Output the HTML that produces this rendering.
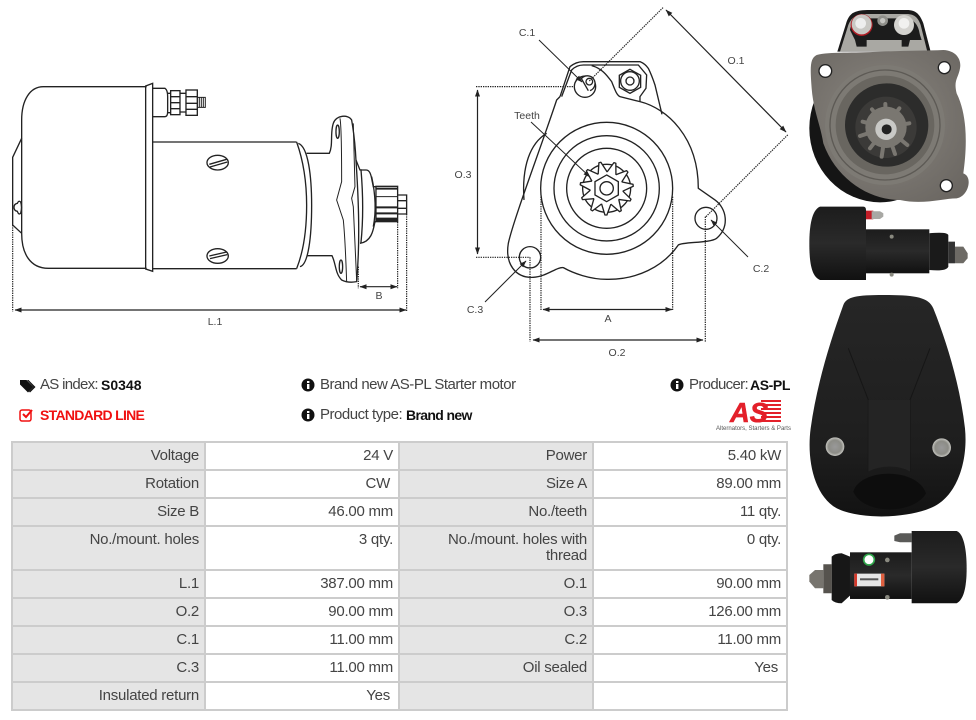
<!DOCTYPE html>
<html><head><meta charset="utf-8"><title>S0348</title>
<style>
html,body{margin:0;padding:0;background:#fff;width:976px;height:720px;overflow:hidden}
body{position:relative;font-family:"Liberation Sans",sans-serif;color:#444}
svg{position:absolute;left:0;top:0}
.t{position:absolute;white-space:nowrap;font-size:15px;line-height:18px;color:#444;letter-spacing:-.48px}
.b{position:absolute;white-space:nowrap;font-size:14px;line-height:18px;color:#111;font-weight:bold}
#g{position:absolute;left:11px;top:441px;width:777px;height:270px;box-sizing:border-box;padding:2px;background:#ccc;display:grid;gap:2px;grid-template-columns:191px 192px 192px 192px;grid-template-rows:26px 26px 26px 42px 26px 26px 26px 26px 26px}
#g div{background:#fff;text-align:right;font-size:15px;letter-spacing:-.25px;line-height:16px;padding:5px 5px 0 5px;box-sizing:border-box;color:#444}
#g div.l{background:#e5e5e5}
#g div.s{padding-right:8px}
.d{font-size:10.5px;fill:#444;font-family:"Liberation Sans",sans-serif;text-anchor:middle}
</style></head><body>
<svg width="976" height="720" viewBox="0 0 976 720">
<defs>
<marker id="a" markerWidth="7" markerHeight="6" refX="6.5" refY="3" orient="auto-start-reverse" markerUnits="userSpaceOnUse"><path d="M0,.5L7,3L0,5.5z" fill="#222"/></marker>
<radialGradient id="fl" cx=".45" cy=".45" r=".7"><stop offset="0" stop-color="#8a8680"/><stop offset="1" stop-color="#6a6661"/></radialGradient>
<linearGradient id="bk" x1="0" y1="0" x2="0" y2="1"><stop offset="0" stop-color="#1c1c1c"/><stop offset=".5" stop-color="#2a2a2a"/><stop offset="1" stop-color="#111"/></linearGradient>
<linearGradient id="cv" x1="0" y1="0" x2="0" y2="1"><stop offset="0" stop-color="#262626"/><stop offset=".7" stop-color="#1e1e1e"/><stop offset="1" stop-color="#121212"/></linearGradient>
<radialGradient id="sc"><stop offset="0" stop-color="#999"/><stop offset=".7" stop-color="#8c8c86"/><stop offset="1" stop-color="#c5c5c0"/></radialGradient>
</defs>

<!-- side view -->
<g transform="translate(0,70) scale(.3333)" fill="none" stroke="#222" stroke-width="4">
<path d="M440,50H130C90,50 65,90 65,150V490C65,550 90,595 145,595H440"/>
<path d="M65,205L38,262V465L65,490"/>
<path d="M437,48L458,40V604L437,597Z"/>
<path d="M458,55H495Q503,60 503,80V125Q503,140 495,140H458"/>
<path d="M503,70H512M503,128H512"/>
<rect x="512" y="62" width="28" height="72"/><path d="M512,80H540M512,98H540M512,116H540"/>
<path d="M540,70H558M540,126H558"/>
<rect x="558" y="60" width="34" height="76"/><path d="M558,80H592M558,100H592M558,118H592"/>
<path d="M592,82H616V112H592M598,82V112M604,82V112M610,82V112" stroke-width="3"/>
<path d="M458,216H890M458,596H890"/>
<path d="M890,216Q920,300 920,406Q920,520 890,596"/>
<path d="M895,220C925,230 935,320 935,406C935,500 925,585 900,590"/>
<path d="M920,250H988C1000,225 990,190 1000,160C1008,135 1045,132 1055,150C1062,190 1066,230 1068,270C1074,360 1082,500 1070,635Q1045,640 1025,630C1005,610 1008,580 996,557H920"/>
<path d="M1060,160L1065,350L1055,385L1060,410L1070,630" stroke-width="3"/>
<path d="M1020,145C1025,170 1025,280 1025,335L1010,390L1030,450C1036,510 1038,580 1040,635" stroke-width="3"/>
<ellipse cx="1013" cy="185" rx="5" ry="20"/><ellipse cx="1023" cy="590" rx="5" ry="20"/>
<path d="M1068,270L1080,300H1098C1108,300 1112,310 1115,325L1120,350H1128M1128,455H1125C1120,480 1115,515 1080,520"/>
<path d="M1083,298C1090,380 1090,450 1083,518"/>
<path d="M1115,320C1128,380 1128,430 1120,470"/>
<rect x="1128" y="349" width="65" height="106"/>
<path d="M1128,356H1193M1128,412H1193M1128,430H1193" stroke-width="6"/>
<path d="M1128,380H1193" stroke-width="3"/>
<path d="M1128,448H1193" stroke-width="10"/>
<path d="M1193,375H1220V432H1193M1193,392H1220M1193,415H1220"/>
<ellipse cx="653" cy="278" rx="32" ry="22"/><path d="M628,283L680,268M630,291L682,276"/>
<ellipse cx="653" cy="558" rx="32" ry="22"/><path d="M628,558L680,546M630,566L682,554"/>
<path d="M42,412Q42,402 52,400Q56,390 62,396Q67,412 62,430Q56,436 52,424Q42,422 42,412Z"/>
<g stroke-dasharray="4 3" stroke-width="3.600"><path d="M38,465V725M1220,432V725M1193,456V655M1075,590V655"/></g>
</g>
<line x1="15" y1="310" x2="406" y2="310" stroke="#222" stroke-width="1.2" marker-start="url(#a)" marker-end="url(#a)"/>
<line x1="360" y1="286.700" x2="397" y2="286.700" stroke="#222" stroke-width="1.2" marker-start="url(#a)" marker-end="url(#a)"/>
<text class="d" x="215" y="325">L.1</text><text class="d" x="379" y="299">B</text>

<!-- front view -->
<g transform="translate(450,0) scale(.3333)" fill="none" stroke="#222" stroke-width="4">
<path d="M330,290L360,200C372,190 385,185 400,185H570C582,190 590,198 595,205C605,225 610,240 615,255L636,343"/>
<path d="M335,290L365,210C375,200 388,195 400,195H565L590,225L588,265L570,290V305"/>
<path d="M425,197C455,205 470,225 485,245C495,270 500,285 510,290L570,305C650,325 745,410 745,565L795,600C830,625 840,680 800,715C780,730 700,725 685,735C640,800 560,840 470,838C420,838 370,820 340,803C320,800 290,830 250,832C195,835 165,790 175,730C190,660 270,450 320,300L330,290"/>
<path d="M290,400C240,430 215,500 222,600"/>
<circle cx="470" cy="565" r="198"/><circle cx="470" cy="565" r="158"/><circle cx="470" cy="565" r="120"/>
<circle cx="470" cy="565" r="72"/>
<g fill="#fff" stroke-linejoin="round">
<path transform="translate(470,565) rotate(18)" d="M-14,-47L-3,-80H3L14,-47"/>
<path transform="translate(470,565) rotate(50.700)" d="M-14,-47L-3,-80H3L14,-47"/>
<path transform="translate(470,565) rotate(83.500)" d="M-14,-47L-3,-80H3L14,-47"/>
<path transform="translate(470,565) rotate(116.200)" d="M-14,-47L-3,-80H3L14,-47"/>
<path transform="translate(470,565) rotate(148.900)" d="M-14,-47L-3,-80H3L14,-47"/>
<path transform="translate(470,565) rotate(181.600)" d="M-14,-47L-3,-80H3L14,-47"/>
<path transform="translate(470,565) rotate(214.400)" d="M-14,-47L-3,-80H3L14,-47"/>
<path transform="translate(470,565) rotate(247.100)" d="M-14,-47L-3,-80H3L14,-47"/>
<path transform="translate(470,565) rotate(279.800)" d="M-14,-47L-3,-80H3L14,-47"/>
<path transform="translate(470,565) rotate(312.500)" d="M-14,-47L-3,-80H3L14,-47"/>
<path transform="translate(470,565) rotate(345.300)" d="M-14,-47L-3,-80H3L14,-47"/>
</g>
<path d="M470,525L505,545V585L470,605L435,585V545Z" fill="#fff"/>
<circle cx="470" cy="565" r="20"/>
<circle cx="405" cy="260" r="32"/><path d="M395,235A23,23 0 1 1 420,272" fill="#fff"/><path d="M392,232L415,272" /><circle cx="418" cy="245" r="10"/>
<circle cx="768" cy="655" r="33"/><circle cx="240" cy="772" r="32"/>
<path d="M540,208L572,226V262L540,280L508,262V226Z"/><circle cx="540" cy="243" r="28"/><circle cx="540" cy="243" r="12"/>
<g stroke-dasharray="4 3" stroke-width="3.600">
<path d="M78,260H375M78,772H240M273,590V932M668,590V932M240,772V1025M766,650V1025M418,243L640,22M768,650L1015,403"/>
</g>
</g>
<g stroke="#222" stroke-width="1" fill="none">
<line x1="477.500" y1="90" x2="477.500" y2="254" stroke-width="1.2" marker-start="url(#a)" marker-end="url(#a)"/>
<line x1="543" y1="309.500" x2="672" y2="309.500" stroke-width="1.2" marker-start="url(#a)" marker-end="url(#a)"/>
<line x1="533" y1="340" x2="703" y2="340" stroke-width="1.2" marker-start="url(#a)" marker-end="url(#a)"/>
<line x1="666" y1="10" x2="786" y2="132" stroke-width="1.2" marker-start="url(#a)" marker-end="url(#a)"/>
<line x1="539" y1="40" x2="582" y2="82" marker-end="url(#a)"/>
<line x1="531" y1="122" x2="590" y2="177" marker-end="url(#a)"/>
<line x1="748" y1="257" x2="711" y2="220" marker-end="url(#a)"/>
<line x1="485" y1="302" x2="526" y2="261" marker-end="url(#a)"/>
</g>
<text class="d" x="527" y="36">C.1</text><text class="d" x="736" y="64">O.1</text>
<text class="d" x="527" y="119">Teeth</text><text class="d" x="463" y="178">O.3</text>
<text class="d" x="761" y="272">C.2</text><text class="d" x="475" y="313">C.3</text>
<text class="d" x="608" y="322">A</text><text class="d" x="617" y="356">O.2</text>

<!-- photo 1 -->
<g transform="translate(810,10) scale(.3333)">
<path d="M82,125L110,35C120,8 135,0 180,0H290C320,0 330,15 340,40L362,125Z" fill="#1a1a1a"/>
<path d="M90,125L115,45C125,20 140,12 180,12H290C315,12 325,25 332,45L352,125Z" fill="#a9a8a3"/>
<path d="M120,60C125,35 140,28 170,25H285C310,28 325,40 330,75L335,90H300L295,110H275V90H170V110H140L135,90Z" fill="#1c1c1c"/>
<circle cx="155" cy="45" r="33" fill="#b01c24"/><circle cx="155" cy="43" r="30" fill="#c9c8c4"/><circle cx="152" cy="40" r="16" fill="#eee"/>
<circle cx="282" cy="45" r="30" fill="#d4d3cf"/><circle cx="282" cy="40" r="16" fill="#f1f1ef"/>
<circle cx="218" cy="32" r="16" fill="#8f8f8a"/><circle cx="218" cy="32" r="8" fill="#c6c6c2"/>
<ellipse cx="210" cy="355" rx="212" ry="222" fill="#151515"/>
<path d="M20,135C60,125 130,130 210,125C280,122 350,122 400,120C440,122 455,150 450,175C445,205 430,210 440,250C475,320 470,420 460,490C490,500 475,560 440,565C400,565 340,585 270,570C180,570 80,510 40,400C30,340 10,300 5,235C0,170 0,145 20,135Z" fill="url(#fl)"/>
<circle cx="225" cy="345" r="180" fill="#7d7a74"/><circle cx="225" cy="345" r="165" fill="none" stroke="#5d5a55" stroke-width="4"/>
<circle cx="225" cy="345" r="148" fill="#696660"/>
<circle cx="230" cy="345" r="125" fill="#2c2c2b"/>
<circle cx="228" cy="352" r="92" fill="#3b3a38"/>
<circle cx="228" cy="352" r="62" fill="#7a7771"/>
<g stroke="#7a7771" stroke-width="12" stroke-linecap="round"><path d="M228,352L226,282M228,352L268,295M228,352L298,340M228,352L292,405M228,352L255,432M228,352L215,440M228,352L180,415M228,352L150,378M228,352L158,335M228,352L186,298"/></g>
<circle cx="228" cy="358" r="32" fill="#c9c9c6"/><circle cx="230" cy="358" r="15" fill="#222"/>
<circle cx="46" cy="183" r="19" fill="#fff" stroke="#222" stroke-width="4"/>
<circle cx="403" cy="173" r="18" fill="#fff" stroke="#222" stroke-width="4"/>
<circle cx="409" cy="527" r="18" fill="#fff" stroke="#222" stroke-width="4"/>
</g>
<!-- photo 2 -->
<g transform="translate(800,0) scale(.3333)">
<rect x="198" y="632" width="22" height="26" fill="#c41e28"/>
<path d="M215,634H240L250,640V650L240,657H215Z" fill="#a8a8a4"/>
<path d="M60,620H190Q198,620 198,630V840H60C35,830 28,790 28,730C28,680 35,630 60,620Z" fill="url(#bk)"/>
<rect x="198" y="688" width="190" height="132" fill="url(#bk)"/>
<path d="M388,700Q440,695 445,705V800Q440,815 388,810Z" fill="#1a1a1a"/>
<path d="M445,725H465V790H445Z" fill="#333"/><path d="M465,740H490L503,760V775L490,790H465Z" fill="#6d6a65"/>
<circle cx="275" cy="710" r="6" fill="#8a8a80"/><circle cx="275" cy="824" r="6" fill="#8a8a80"/>
</g>
<!-- photo 3 -->
<g transform="translate(800,285) scale(.3333)">
<path d="M130,60C140,35 170,30 250,30C340,30 385,35 400,70C440,170 480,300 495,430C505,530 470,640 390,670C320,700 180,705 110,670C40,630 20,520 32,430C50,300 90,170 130,60Z" fill="url(#cv)"/>
<path d="M145,190L205,345V560M390,190L330,345V560" stroke="#161616" stroke-width="3" fill="none"/>
<path d="M205,345H330V560C300,540 240,540 205,560Z" fill="#242424"/>
<path d="M160,620C180,550 350,545 378,625C340,690 190,690 160,620Z" fill="#0d0d0d"/>
<circle cx="105" cy="485" r="28" fill="url(#sc)"/><circle cx="425" cy="488" r="28" fill="url(#sc)"/>
</g>
<!-- photo 4 -->
<g transform="translate(800,285) scale(.3333)">
<path d="M283,752L300,745H335V772H300L283,768Z" fill="#5a5a58"/>
<path d="M335,738H470C490,745 500,790 500,850C500,910 490,945 470,955H335Z" fill="url(#bk)"/>
<rect x="150" y="802" width="185" height="140" fill="url(#bk)"/>
<path d="M95,815Q105,805 125,805L150,815V932L125,955Q105,955 95,945Z" fill="#171717"/>
<path d="M70,838H95V925H70Z" fill="#56534e"/><path d="M45,855H70V910H45L28,890V870Z" fill="#77746e"/>
<circle cx="207" cy="824" r="16" fill="#fff" stroke="#2fa54a" stroke-width="5"/>
<rect x="163" y="866" width="90" height="38" fill="#e5e5e5"/><rect x="163" y="866" width="8" height="38" fill="#d6382a"/><rect x="243" y="866" width="10" height="38" fill="#e06040"/>
<rect x="180" y="880" width="55" height="6" fill="#555"/>
<circle cx="262" cy="825" r="7" fill="#8a8a80"/><circle cx="262" cy="937" r="7" fill="#8a8a80"/>
</g>

<!-- info icons -->
<g fill="#111">
<path d="M20,380h6.500l7,7l-5.500,5.500l-8,-8z"/><path d="M28.500,380l7,7l-5.500,5.500l-1,-1l4.500,-4.500l-6.500,-7z"/>
</g>
<g id="ic">
<circle cx="308" cy="385" r="6.500" fill="#111"/><rect x="307" y="384" width="2.400" height="5" fill="#fff"/><rect x="307" y="381" width="2.400" height="2" fill="#fff"/>
<circle cx="308" cy="415" r="6.500" fill="#111"/><rect x="307" y="414" width="2.400" height="5" fill="#fff"/><rect x="307" y="411" width="2.400" height="2" fill="#fff"/>
<circle cx="677" cy="385" r="6.500" fill="#111"/><rect x="676" y="384" width="2.400" height="5" fill="#fff"/><rect x="676" y="381" width="2.400" height="2" fill="#fff"/>
</g>
<rect x="20" y="410" width="11" height="11" rx="2" fill="none" stroke="#f01010" stroke-width="1.500"/>
<path d="M23,414l3,3l6,-7" fill="none" stroke="#f01010" stroke-width="2"/>

<!-- logo -->
<g fill="#e3202a"><rect x="761" y="400" width="20" height="2"/><rect x="761" y="404" width="20" height="2"/><rect x="761" y="408" width="20" height="2"/><rect x="761" y="412" width="20" height="2"/><rect x="761" y="416" width="20" height="2"/><rect x="758" y="420" width="23" height="2"/></g>
<text x="730" y="422" font-family="Liberation Sans" font-weight="bold" font-style="italic" font-size="28" fill="#e3202a" stroke="#e3202a" stroke-width=".6" textLength="38" lengthAdjust="spacingAndGlyphs">AS</text>
<text x="716" y="430" font-family="Liberation Sans" font-size="6" fill="#555" textLength="75" lengthAdjust="spacingAndGlyphs">Alternators, Starters &amp; Parts</text>
</svg>

<div class="t" style="left:40px;top:376px;letter-spacing:-.7px">AS index:</div>
<div class="b" style="left:101px;top:376px">S0348</div>
<div class="b" style="left:40px;top:406px;color:#f01010;letter-spacing:-.7px">STANDARD LINE</div>
<div class="t" style="left:320px;top:376px">Brand new AS-PL Starter motor</div>
<div class="t" style="left:320px;top:406px">Product type:</div>
<div class="b" style="left:406px;top:406px;letter-spacing:-.65px">Brand new</div>
<div class="t" style="left:689px;top:376px;letter-spacing:-.67px">Producer:</div>
<div class="b" style="left:750px;top:376px;letter-spacing:-.4px">AS-PL</div>

<div id="g">
<div class="l">Voltage</div><div>24 V</div><div class="l">Power</div><div>5.40 kW</div>
<div class="l">Rotation</div><div class="s">CW</div><div class="l">Size A</div><div>89.00 mm</div>
<div class="l">Size B</div><div>46.00 mm</div><div class="l">No./teeth</div><div>11 qty.</div>
<div class="l">No./mount. holes</div><div>3 qty.</div><div class="l">No./mount. holes with<br>thread</div><div>0 qty.</div>
<div class="l">L.1</div><div>387.00 mm</div><div class="l">O.1</div><div>90.00 mm</div>
<div class="l">O.2</div><div>90.00 mm</div><div class="l">O.3</div><div>126.00 mm</div>
<div class="l">C.1</div><div>11.00 mm</div><div class="l">C.2</div><div>11.00 mm</div>
<div class="l">C.3</div><div>11.00 mm</div><div class="l">Oil sealed</div><div class="s">Yes</div>
<div class="l">Insulated return</div><div class="s">Yes</div><div class="l"></div><div></div>
</div>
</body></html>
